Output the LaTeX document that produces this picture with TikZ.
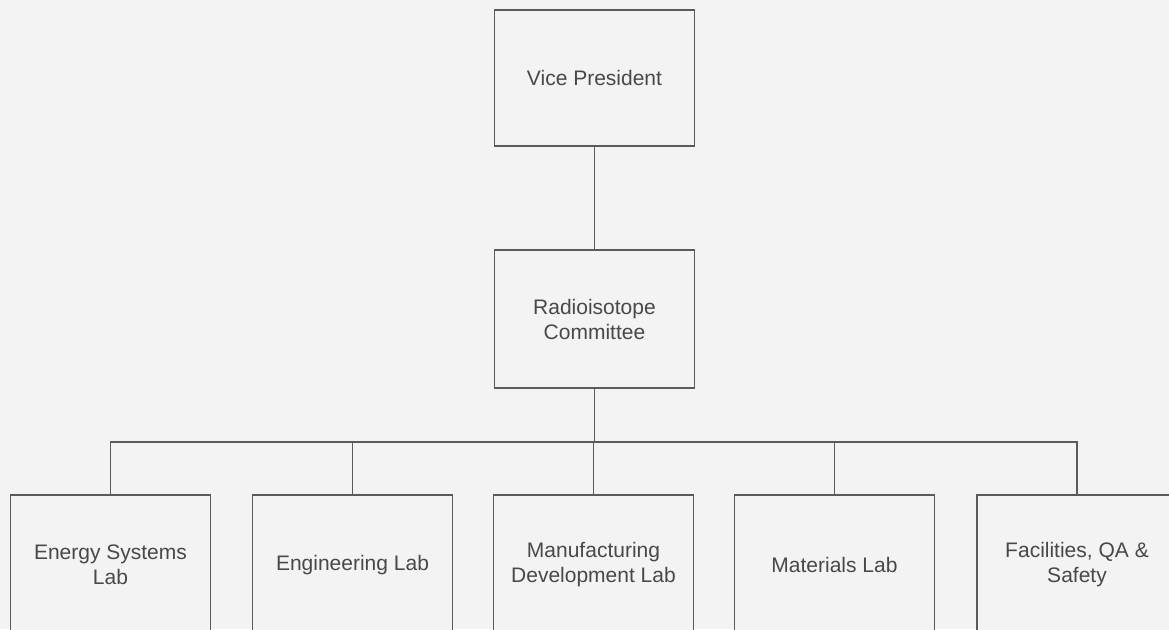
\documentclass[tikz,border=0pt]{standalone}
\usepackage{fontspec}
\setmainfont{Liberation Sans}
\definecolor{bg}{HTML}{F3F3F3}
\definecolor{ln}{HTML}{5A5A5A}
\definecolor{tx}{HTML}{484848}
\begin{document}
\begin{tikzpicture}[x=1pt,y=-1pt,
  box/.style={draw=ln, line width=1.3pt, fill=bg, minimum width=200pt, align=center,
    text=tx, font=\fontsize{21}{25}\selectfont, inner sep=0pt},
  topbox/.style={box, minimum height=136pt},
  midbox/.style={box, minimum height=138pt},
  labbox/.style={box, minimum height=140pt},
  conn/.style={draw=ln, line width=1.3pt}]
\useasboundingbox (0,0) rectangle (1169,629);
\fill[bg] (0,0) rectangle (1169,629);
\clip (0,0) rectangle (1169,629);
\node[topbox] (vp) at (594.5,78) {Vice President};
\node[midbox] (rc) at (594.5,319) {Radioisotope\\Committee};
\node[labbox] (l1) at (110.5,565) {Energy Systems\\Lab};
\node[labbox] (l2) at (352.5,565) {Engineering Lab};
\node[labbox] (l3) at (593.5,565) {Manufacturing\\Development Lab};
\node[labbox] (l4) at (834.5,565) {Materials Lab};
\node[labbox] (l5) at (1077,565) {Facilities, QA \&\\Safety};
\coordinate (bus) at (594.5,442);
\draw[conn] (vp.south) -- (rc.north);
\draw[conn] (rc.south) -- (bus);
\draw[conn] (l1.north) |- (bus) -| (l5.north);
\draw[conn] (l2.north) -- (l2.north |- bus);
\draw[conn] (l3.north) -- (l3.north |- bus);
\draw[conn] (l4.north) -- (l4.north |- bus);
\end{tikzpicture}
\end{document}
